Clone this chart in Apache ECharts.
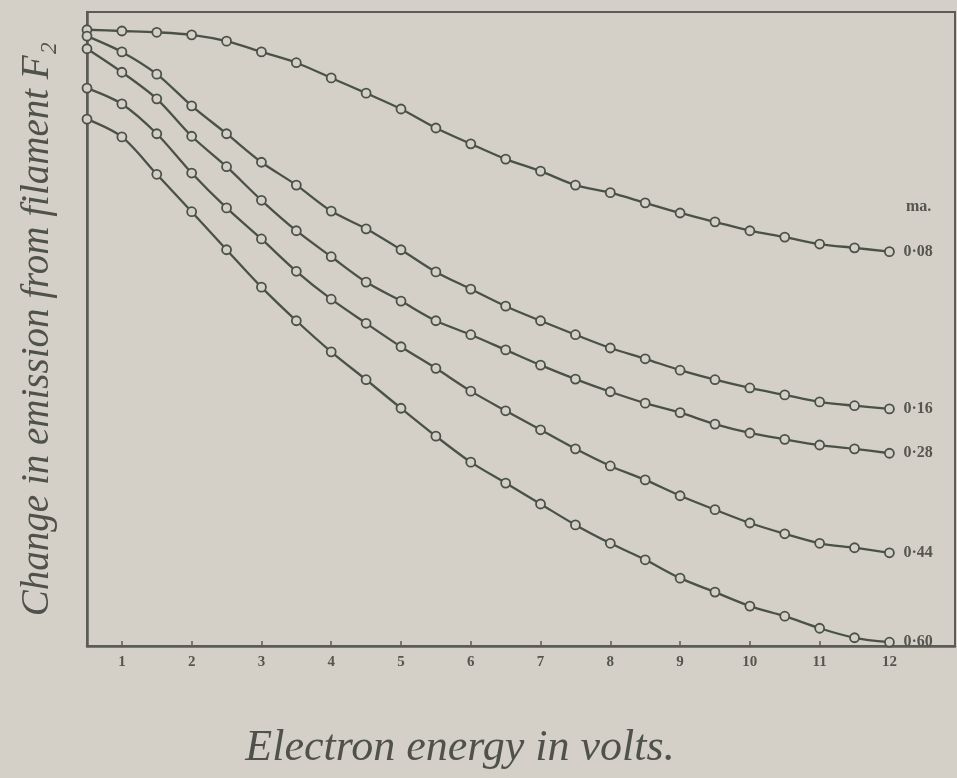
<!DOCTYPE html>
<html>
<head>
<meta charset="utf-8">
<script src="https://cdn.jsdelivr.net/npm/echarts@6/dist/echarts.min.js"></script>
<style>
html,body{margin:0;padding:0;background:#d5d0c7;}
#c{width:957px;height:778px;}
</style>
</head>
<body>
<div id="c"></div>
<script>
// Electron energy (volts)
const energy = [0.5,1,1.5,2,2.5,3,3.5,4,4.5,5,5.5,6,6.5,7,7.5,8,8.5,9,9.5,10,10.5,11,11.5,12];
const tickValues = [1,2,3,4,5,6,7,8,9,10,11,12];
// Change in emission (arbitrary units) for each filament current (ma.)
const s008 = [97.2,97.0,96.8,96.4,95.4,93.7,92.0,89.6,87.2,84.7,81.7,79.2,76.8,74.9,72.7,71.5,69.9,68.3,66.9,65.5,64.5,63.4,62.8,62.2];
const s016 = [96.2,93.7,90.2,85.2,80.8,76.3,72.7,68.6,65.8,62.5,59.0,56.3,53.6,51.3,49.1,47.0,45.3,43.5,42.0,40.7,39.6,38.5,37.9,37.4];
const s028 = [94.2,90.5,86.3,80.4,75.6,70.3,65.5,61.4,57.4,54.4,51.3,49.1,46.7,44.3,42.1,40.1,38.3,36.8,35.0,33.6,32.6,31.7,31.1,30.4];
const s044 = [88.0,85.5,80.8,74.6,69.1,64.2,59.1,54.7,50.9,47.2,43.8,40.2,37.1,34.1,31.1,28.4,26.2,23.7,21.5,19.4,17.7,16.2,15.5,14.7];
const s060 = [83.1,80.3,74.4,68.5,62.5,56.6,51.3,46.4,42.0,37.5,33.1,29.0,25.7,22.4,19.1,16.2,13.6,10.7,8.5,6.3,4.7,2.8,1.3,0.6];
const seriesNames = ['0·08','0·16','0·28','0·44','0·60'];
const seriesData = [s008,s016,s028,s044,s060];
const unitLabel = 'ma.';
const xTitle = 'Electron energy in volts.';
const yTitle = 'Change in emission from filament F\u2082';

const ink = '#4a5248';
const textInk = '#54564f';
const bg = '#d5d0c7';
const serif = '"Liberation Serif","DejaVu Serif",serif';

const chart = echarts.init(document.getElementById('c'), null, {renderer:'canvas'});
chart.setOption({
  backgroundColor: bg,
  animation: false,
  grid: {left: 87, right: 2, top: 12, bottom: 132, show: true, borderColor: '#5a5c55', borderWidth: 2, backgroundColor: 'transparent'},
  xAxis: {
    type: 'value', min: 0.5, max: 12.94,
    axisLine: {show: true, onZero: false, lineStyle: {color: '#5a5c55', width: 2.5}},
    axisTick: {show: true, inside: true, length: 5, customValues: tickValues, lineStyle: {color: '#5a5c55', width: 1.5}},
    axisLabel: {show: true, customValues: tickValues, margin: 9, color: textInk, fontFamily: serif, fontWeight: 'bold', fontSize: 15},
    splitLine: {show: false},
    name: xTitle, nameLocation: 'middle', nameGap: 80,
    nameTextStyle: {fontFamily: serif, fontStyle: 'italic', fontSize: 44, color: '#4f514b', padding: [0, 0, 0, -122]}
  },
  yAxis: {
    type: 'value', min: 0, max: 100,
    axisLine: {show: true, onZero: false, lineStyle: {color: '#5a5c55', width: 2.5}},
    axisTick: {show: false}, axisLabel: {show: false}, splitLine: {show: false},
    name: yTitle, nameLocation: 'middle', nameGap: 30, nameRotate: 90,
    nameTextStyle: {fontFamily: serif, fontStyle: 'italic', fontSize: 39, color: '#4f514b'}
  },
  series: seriesData.map((d, i) => ({
    name: seriesNames[i],
    type: 'line',
    data: energy.map((x, j) => [x, d[j]]),
    smooth: 0.3,
    symbol: 'circle', symbolSize: 9,
    itemStyle: {color: bg, borderColor: ink, borderWidth: 1.8},
    lineStyle: {color: ink, width: 2.3},
    clip: false,
    endLabel: {show: true, formatter: seriesNames[i], distance: 14, color: textInk, fontFamily: serif, fontWeight: 'bold', fontSize: 16}
  })),
  graphic: [{
    type: 'text', left: 906, top: 199,
    style: {text: unitLabel, fill: textInk, font: 'bold 16px ' + serif}
  }]
});
</script>
</body>
</html>
